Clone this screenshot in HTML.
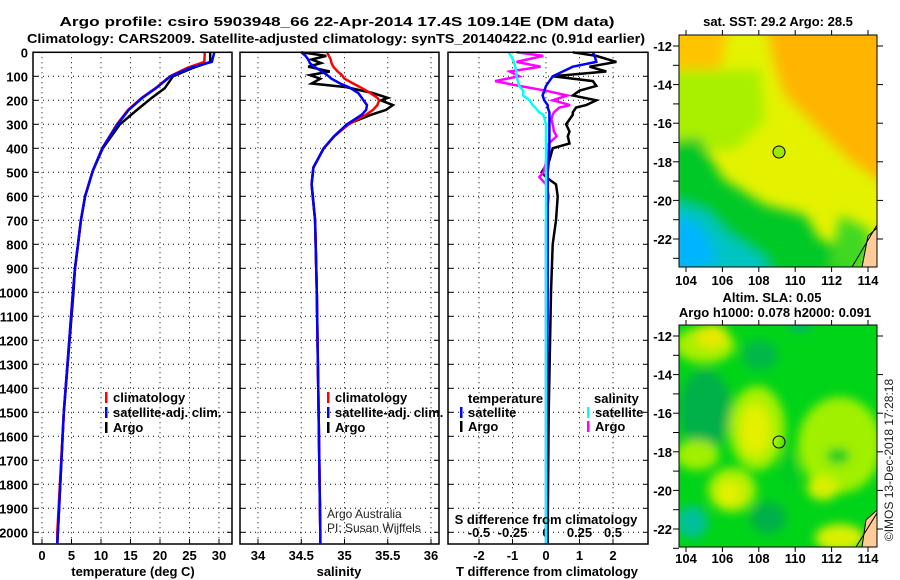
<!DOCTYPE html>
<html><head><meta charset="utf-8"><style>
html,body{margin:0;padding:0;background:#fff;}
svg{display:block;font-family:"Liberation Sans",sans-serif;}
.b{font-weight:bold;font-size:13px;}
</style></head><body>
<svg id="c" width="900" height="580" viewBox="0 0 900 580" xmlns="http://www.w3.org/2000/svg">
<defs>
<filter id="bl" x="-20%" y="-20%" width="140%" height="140%"><feGaussianBlur stdDeviation="6"/></filter>
<filter id="bl2" x="-20%" y="-20%" width="140%" height="140%"><feGaussianBlur stdDeviation="5"/></filter>
<clipPath id="m1"><rect x="679" y="35" width="198" height="232"/></clipPath>
<clipPath id="m2"><rect x="679" y="325" width="198" height="222"/></clipPath>
</defs>
<text class="b" x="337" y="26" text-anchor="middle" font-size="14" textLength="555" lengthAdjust="spacingAndGlyphs">Argo profile: csiro 5903948_66 22-Apr-2014 17.4S 109.14E (DM data)</text>
<text class="b" x="336" y="43" text-anchor="middle" font-size="14" textLength="618" lengthAdjust="spacingAndGlyphs">Climatology: CARS2009. Satellite-adjusted climatology: synTS_20140422.nc (0.91d earlier)</text>

<!-- top map -->
<g clip-path="url(#m1)">
<rect x="679" y="35" width="198" height="232" fill="#e4f200"/>
<g filter="url(#bl)">
<polygon points="765,20 900,20 900,195 850,160 815,125 785,95 775,65" fill="#ffb400"/>
<polygon points="670,25 730,25 720,70 670,75" fill="#ffc400"/>
<polygon points="670,70 760,70 765,120 735,150 670,150" fill="#a8f000"/>
<polygon points="670,140 700,138 722,178 765,205 805,215 820,240 845,248 860,280 670,280" fill="#00c828"/>
<polygon points="670,200 705,210 730,235 765,258 775,290 670,290" fill="#00c4c0"/>
<polygon points="670,215 700,225 720,260 670,275" fill="#00b4ff"/>
<polygon points="840,215 870,230 870,270 830,270" fill="#40d820"/>
</g>
<polygon points="862,267 868,236 877,228 877,267" fill="#ffcc99" stroke="#000" stroke-width="1"/>
<line x1="852" y1="267" x2="877" y2="225" stroke="#000" stroke-width="1"/>
<circle cx="779" cy="152" r="6" fill="#a0e800" stroke="#000" stroke-width="1"/>
</g>
<rect x="679" y="35" width="198" height="232" fill="none" stroke="#000"/>
<text class="b" x="778" y="26" text-anchor="middle">sat. SST: 29.2 Argo: 28.5</text>

<!-- bottom map -->
<g clip-path="url(#m2)">
<rect x="679" y="325" width="198" height="222" fill="#00d418"/>
<g filter="url(#bl2)">
<ellipse cx="705" cy="345" rx="30" ry="18" fill="#a8f000"/>
<ellipse cx="712" cy="336" rx="16" ry="12" fill="#e8e800"/>
<ellipse cx="705" cy="410" rx="26" ry="40" fill="#00b04a"/>
<ellipse cx="760" cy="355" rx="18" ry="15" fill="#00b84a"/>
<ellipse cx="800" cy="325" rx="12" ry="6" fill="#00b078"/>
<ellipse cx="757" cy="428" rx="28" ry="42" fill="#a8f000"/>
<ellipse cx="755" cy="430" rx="15" ry="26" fill="#e4f000"/>
<ellipse cx="697" cy="455" rx="22" ry="15" fill="#a0f000"/>
<ellipse cx="732" cy="490" rx="24" ry="22" fill="#b0f000"/>
<ellipse cx="730" cy="493" rx="12" ry="12" fill="#e4f000"/>
<ellipse cx="692" cy="522" rx="16" ry="16" fill="#00c09a"/>
<ellipse cx="768" cy="518" rx="18" ry="16" fill="#00b04a"/>
<ellipse cx="840" cy="445" rx="42" ry="48" fill="#a0f000"/>
<ellipse cx="838" cy="456" rx="12" ry="8" fill="#00cc22"/>
<ellipse cx="823" cy="488" rx="16" ry="12" fill="#d8f000"/>
<ellipse cx="840" cy="538" rx="25" ry="14" fill="#d8f000"/>
<ellipse cx="790" cy="470" rx="8" ry="20" fill="#00cc22"/>
</g>
<polygon points="862,547 866,520 877,510 877,547" fill="#ffcc99" stroke="#000" stroke-width="1"/>
<line x1="856" y1="547" x2="877" y2="513" stroke="#000" stroke-width="1"/>
<circle cx="779" cy="442" r="6" fill="none" stroke="#000" stroke-width="1"/>
</g>
<rect x="679" y="325" width="198" height="222" fill="none" stroke="#000"/>
<text class="b" x="772" y="302" text-anchor="middle">Altim. SLA: 0.05</text>
<text class="b" x="775" y="317" text-anchor="middle">Argo h1000: 0.078 h2000: 0.091</text>
<text x="893" y="460" font-size="12" text-anchor="middle" transform="rotate(-90 893 460)" fill="#222">©IMOS 13-Dec-2018 17:28:18</text>
<g id="axes"></g>
</svg>
<script>
// depth levels (m)
const depthT = [0,40,65,100,150,190,240,300,400,495,600,700,800,900,1010,1500,2000,2045];
const argoT = [28.5,28.5,25.6,22.2,20.8,18.6,16.1,13.2,10.3,8.6,7.3,6.6,6.1,5.6,5.3,3.7,2.7,2.6];
const climT = [27.6,27.5,24.6,21.7,19.2,16.9,14.6,12.7,10.2,8.6,7.3,6.6,6.1,5.6,5.2,3.7,2.6,2.6];
const satT  = [29.2,28.8,25.1,21.8,19.3,17.0,14.7,12.8,10.2,8.6,7.3,6.6,6.1,5.6,5.2,3.7,2.7,2.6];
const depthS = [0,15,30,45,60,80,95,110,130,145,170,190,200,220,240,260,300,350,400,480,550,700,1000,1500,2000,2045];
const argoS = [34.5,34.79,34.62,34.73,34.58,34.83,34.6,34.72,34.62,35.02,35.33,35.5,35.42,35.56,35.48,35.31,35.03,34.88,34.76,34.64,34.62,34.66,34.68,34.7,34.72,34.72];
const climS = [34.8,34.82,34.84,34.85,34.87,34.92,34.97,35.0,35.1,35.18,35.3,35.38,35.4,35.38,35.33,35.25,35.05,34.88,34.76,34.64,34.62,34.66,34.68,34.7,34.72,34.72];
const satS  = [34.5,34.55,34.58,34.6,34.65,34.74,34.8,34.85,34.95,35.05,35.16,35.2,35.22,35.26,35.25,35.2,35.03,34.88,34.76,34.64,34.62,34.66,34.68,34.7,34.72,34.72];
const depthD = [0,15,40,60,80,100,120,140,160,180,200,220,230,250,260,280,300,330,350,380,400,450,460,500,520,550,600,700,800,1000,1500,2000,2045];
const argoDT = [0.8,1.5,2.1,1.3,1.8,0.2,1.4,1.5,1.0,0.8,1.5,1.2,0.9,0.8,0.8,0.7,0.6,0.7,0.65,0.7,0.2,0.1,0.05,-0.13,0.0,0.3,0.35,0.3,0.2,0.15,0.08,0.05,0.05];
const satDT  = [1.4,1.45,1.5,0.8,0.5,0.2,0.1,0.0,-0.05,-0.1,-0.05,0.05,0.05,0.1,0.1,0.1,0.1,0.1,0.1,0.1,0.1,0.08,0.08,0.05,0.05,0.05,0.05,0.05,0.05,0.05,0.03,0.03,0.03];
const argoDS = [-0.22,-0.02,-0.22,-0.04,-0.27,-0.2,-0.38,-0.2,0.0,0.16,0.05,0.18,0.1,0.06,0.05,0.04,0.05,0.06,0.08,0.02,0.02,0.0,0.0,-0.02,-0.05,0.0,0.02,0.0,0.0,0.0,0.0,0.0,0.0];
const satDS  = [-0.28,-0.26,-0.24,-0.23,-0.22,-0.22,-0.21,-0.2,-0.17,-0.17,-0.12,-0.1,-0.08,-0.05,-0.02,-0.01,0.0,0.0,0.0,0.0,0.0,0.0,0.0,0.0,0.0,0.0,0.0,0.0,0.0,0.0,0.0,0.0,0.0];
const depthTicks = [0,100,200,300,400,500,600,700,800,900,1000,1100,1200,1300,1400,1500,1600,1700,1800,1900,2000];
const tTicks = [0,5,10,15,20,25,30];
const sTicks = [34,34.5,35,35.5,36];
const sTickLabels = ['34','34.5','35','35.5','36'];
const dtTicks = [-2,-1,0,1,2];
const dsTicks = [-0.5,-0.25,0,0.25,0.5];
const dsTickLabels = ['-0.5','-0.25','0','0.25','0.5'];
const latTicks = [-12,-14,-16,-18,-20,-22];
const lonTicks = [104,106,108,110,112,114];

const NS='http://www.w3.org/2000/svg';
const g=document.getElementById('axes');
function mk(t,a,parent){const e=document.createElementNS(NS,t);for(const k in a)e.setAttribute(k,a[k]);(parent||g).appendChild(e);return e;}
const yD=d=>52.3+d*0.24;
const xT=v=>42+v*5.9;
const xS=v=>258+(v-34)*86.5;
const xDT=v=>546+v*33.5;
const xDS=v=>546+v*134;
const panels=[{x0:33,x1:232,name:'temperature-panel'},{x0:240,x1:439,name:'salinity-panel'},{x0:448,x1:648,name:'difference-panel'}];
const PT=52.3,PB=544;
panels.forEach(p=>{
  for(const d of depthTicks){
    const l=mk('line',{x1:p.x0,x2:p.x1,y1:yD(d),y2:yD(d),stroke:'#000','stroke-dasharray':'1 4','stroke-width':1});
    
    
    mk('line',{x1:p.x0,x2:p.x0+5,y1:yD(d),y2:yD(d),stroke:'#000'});
    mk('line',{x1:p.x1-5,x2:p.x1,y1:yD(d),y2:yD(d),stroke:'#000'});
  }
});
function vgrid(xs,p,labels,ly){
  xs.forEach((x,i)=>{
    const l=mk('line',{x1:x,x2:x,y1:PT,y2:PB,stroke:'#000','stroke-dasharray':'1 4','stroke-width':1});
    
    
    mk('line',{x1:x,x2:x,y1:PB-5,y2:PB,stroke:'#000'});
    if(labels){const t=mk('text',{x:x,y:ly,'text-anchor':'middle',class:'b'});t.textContent=labels[i];
      
      }
  });
}
vgrid(tTicks.map(xT),panels[0],tTicks.map(String),560);
vgrid(sTicks.map(xS),panels[1],sTickLabels,560);
vgrid(dtTicks.map(xDT),panels[2],dtTicks.map(String),560);
dsTicks.forEach((v,i)=>{const t=mk('text',{x:xDS(v),y:537,'text-anchor':'middle',class:'b'});t.textContent=dsTickLabels[i];
  
  });
depthTicks.forEach(d=>{const t=mk('text',{x:28,y:yD(d)+5,'text-anchor':'end',class:'b'});t.textContent=d;
  
  });
function line(ds,vs,fx,col,name){
  const pts=ds.map((d,i)=>fx(vs[i]).toFixed(1)+','+yD(d).toFixed(1)).join(' ');
  const l=mk('polyline',{points:pts,fill:'none',stroke:col,'stroke-width':2.5,'stroke-linejoin':'miter'});
  
  
}
line(depthT,argoT,xT,'#000','argo-temperature-line');
line(depthT,climT,xT,'#f00','clim-temperature-line');
line(depthT,satT,xT,'#00f','sat-temperature-line');
line(depthS,argoS,xS,'#000','argo-salinity-line');
line(depthS,climS,xS,'#f00','clim-salinity-line');
line(depthS,satS,xS,'#00f','sat-salinity-line');
line(depthD,argoDT,xDT,'#000','argo-t-diff-line');
line(depthD,argoDS,xDS,'#f0f','argo-s-diff-line');
line(depthD,satDT,xDT,'#00f','sat-t-diff-line');
line(depthD,satDS,xDS,'#0ff','sat-s-diff-line');
panels.forEach(p=>{const r=mk('rect',{x:p.x0,y:PT,width:p.x1-p.x0,height:PB-PT,fill:'none',stroke:'#000','stroke-width':1.5});
  
  });
function txt(x,y,s,name,extra){const t=mk('text',Object.assign({x:x,y:y,class:'b'},extra||{}));t.textContent=s;
  
  return t;}
txt(133,576,'temperature (deg C)','x-axis-title-temperature',{'text-anchor':'middle'});
txt(339,576,'salinity','x-axis-title-salinity',{'text-anchor':'middle'});
txt(547,576,'T difference from climatology','x-axis-title-t-diff',{'text-anchor':'middle'});
txt(546,524,'S difference from climatology','s-diff-axis-title',{'text-anchor':'middle'});
function leg(x,y,col,s,name){mk('rect',{x:x,y:y-10,width:2.5,height:11,fill:col});txt(x+8,y,s,name);}
leg(105,402,'#f00','climatology','legend-climatology');
leg(105,417,'#00f','satellite-adj. clim.','legend-satellite-adj');
leg(105,432,'#000','Argo','legend-argo');
leg(327,402,'#f00','climatology','legend-climatology-s');
leg(327,417,'#00f','satellite-adj. clim.','legend-satellite-adj-s');
leg(327,432,'#000','Argo','legend-argo-s');
txt(468,403,'temperature','legend-temperature-header');
leg(460,417,'#00f','satellite','legend-t-satellite');
leg(460,431,'#000','Argo','legend-t-argo');
txt(594,403,'salinity','legend-salinity-header');
leg(587,417,'#0ff','satellite','legend-s-satellite');
leg(587,431,'#f0f','Argo','legend-s-argo');
const a1=mk('text',{x:327,y:518,'font-size':12,fill:'#222'});a1.textContent='Argo Australia';


const a2=mk('text',{x:327,y:532,'font-size':12,fill:'#222'});a2.textContent='PI: Susan Wijffels';


// map axes
[[35,267,46,285],[325,547,336,563]].forEach(m=>{
  const [top,bot,lat12,lonY]=m;
  latTicks.forEach((v,i)=>{const y=lat12+i*38.6;
    mk('line',{x1:673,x2:679,y1:y,y2:y,stroke:'#000'});
    mk('line',{x1:877,x2:883,y1:y,y2:y,stroke:'#000'});
    mk('line',{x1:673,x2:679,y1:y+19.3,y2:y+19.3,stroke:'#000'});
    txt(672,y+5,String(v),'latitude-tick-label',{'text-anchor':'end'});});
  lonTicks.forEach((v,i)=>{const x=686+i*36.4;
    mk('line',{x1:x,x2:x,y1:bot,y2:bot+5,stroke:'#000'});
    mk('line',{x1:x,x2:x,y1:top-5,y2:top,stroke:'#000'});
    txt(x,lonY,String(v),'longitude-tick-label',{'text-anchor':'middle'});});
});
</script>
</body></html>
